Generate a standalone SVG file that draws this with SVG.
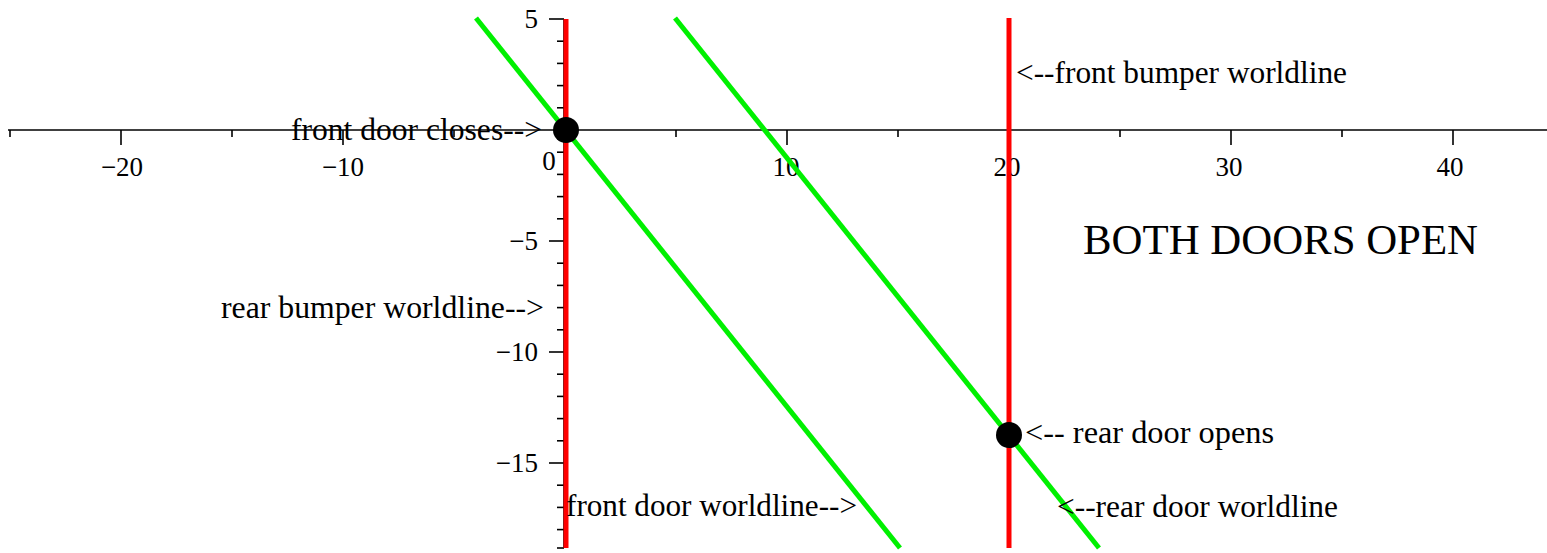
<svg xmlns="http://www.w3.org/2000/svg" width="1547" height="553" viewBox="0 0 1547 553">
  <style>
    .ax { stroke: #000; stroke-width: 1.6; fill: none; }
    .tk { stroke: #000; stroke-width: 1.6; }
    .red { stroke: #ff0000; stroke-width: 5; fill: none; }
    .grn { stroke: #00f000; stroke-width: 5; fill: none; }
    .lbl { font-family: "Liberation Serif", "Times New Roman", serif; font-size: 32px; fill: #000; }
    .num { font-family: "Liberation Serif", "Times New Roman", serif; font-size: 27px; fill: #000; }
    .title { font-family: "Liberation Serif", "Times New Roman", serif; font-size: 42px; fill: #000; }
    .dot { fill: #000; }
  </style>
  <rect width="1547" height="553" fill="#fff"/>

  <g id="axes">
    <line class="ax" x1="8" y1="130" x2="1547" y2="130"/>
    <line class="ax" x1="564" y1="19" x2="564" y2="548"/>
    <g class="tk">
      <line x1="10" y1="130" x2="10" y2="137"/>
      <line x1="121" y1="130" x2="121" y2="145"/>
      <line x1="232" y1="130" x2="232" y2="137"/>
      <line x1="343" y1="130" x2="343" y2="145"/>
      <line x1="454" y1="130" x2="454" y2="137"/>
      <line x1="676" y1="130" x2="676" y2="137"/>
      <line x1="787" y1="130" x2="787" y2="145"/>
      <line x1="898" y1="130" x2="898" y2="137"/>
      <line x1="1009" y1="130" x2="1009" y2="145"/>
      <line x1="1120" y1="130" x2="1120" y2="137"/>
      <line x1="1231" y1="130" x2="1231" y2="145"/>
      <line x1="1342" y1="130" x2="1342" y2="137"/>
      <line x1="1453" y1="130" x2="1453" y2="145"/>
    </g>
    <g class="tk">
      <line x1="549" y1="19" x2="564" y2="19"/>
      <line x1="557" y1="41.2" x2="564" y2="41.2"/>
      <line x1="557" y1="63.4" x2="564" y2="63.4"/>
      <line x1="557" y1="85.6" x2="564" y2="85.6"/>
      <line x1="557" y1="107.8" x2="564" y2="107.8"/>
      <line x1="557" y1="152.2" x2="564" y2="152.2"/>
      <line x1="557" y1="174.4" x2="564" y2="174.4"/>
      <line x1="557" y1="196.6" x2="564" y2="196.6"/>
      <line x1="557" y1="218.8" x2="564" y2="218.8"/>
      <line x1="549" y1="241" x2="564" y2="241"/>
      <line x1="557" y1="263.2" x2="564" y2="263.2"/>
      <line x1="557" y1="285.4" x2="564" y2="285.4"/>
      <line x1="557" y1="307.6" x2="564" y2="307.6"/>
      <line x1="557" y1="329.8" x2="564" y2="329.8"/>
      <line x1="549" y1="352" x2="564" y2="352"/>
      <line x1="557" y1="374.2" x2="564" y2="374.2"/>
      <line x1="557" y1="396.4" x2="564" y2="396.4"/>
      <line x1="557" y1="418.6" x2="564" y2="418.6"/>
      <line x1="557" y1="440.8" x2="564" y2="440.8"/>
      <line x1="549" y1="463" x2="564" y2="463"/>
      <line x1="557" y1="485.2" x2="564" y2="485.2"/>
      <line x1="557" y1="507.4" x2="564" y2="507.4"/>
      <line x1="557" y1="529.6" x2="564" y2="529.6"/>
      <line x1="557" y1="548" x2="564" y2="548"/>
    </g>
    <g class="num" text-anchor="middle">
      <text x="122" y="176">−20</text>
      <text x="343" y="176">−10</text>
      <text x="549" y="170">0</text>
      <text x="786" y="176">10</text>
      <text x="1007" y="176">20</text>
      <text x="1229" y="176">30</text>
      <text x="1450" y="176">40</text>
    </g>
    <g class="num" text-anchor="end">
      <text x="538" y="28">5</text>
      <text x="538" y="250">−5</text>
      <text x="538" y="361">−10</text>
      <text x="538" y="472">−15</text>
    </g>
  </g>

  <g id="connectors">
    <line id="rear-bumper-worldline" class="red" x1="566" y1="19" x2="566" y2="548"/>
    <line id="front-bumper-worldline" class="red" x1="1009" y1="18" x2="1009" y2="548"/>
    <line id="front-door-worldline" class="grn" x1="476" y1="18" x2="900" y2="548"/>
    <line id="rear-door-worldline" class="grn" x1="675" y1="18" x2="1099" y2="548"/>
  </g>

  <g id="front-door-closes">
    <circle class="dot" cx="566" cy="130" r="13"/>
    <text class="lbl" x="291" y="140" textLength="251" lengthAdjust="spacingAndGlyphs">front door closes--&gt;</text>
  </g>
  <g id="rear-door-opens">
    <circle class="dot" cx="1009" cy="435" r="13"/>
    <text class="lbl" x="1025" y="443" textLength="249" lengthAdjust="spacingAndGlyphs">&lt;-- rear door opens</text>
  </g>
  <g id="label-front-bumper">
    <text class="lbl" x="1016" y="83" textLength="331" lengthAdjust="spacingAndGlyphs">&lt;--front bumper worldline</text>
  </g>
  <g id="label-rear-bumper">
    <text class="lbl" x="221" y="318" textLength="323" lengthAdjust="spacingAndGlyphs">rear bumper worldline--&gt;</text>
  </g>
  <g id="label-front-door">
    <text class="lbl" x="566" y="516" textLength="291" lengthAdjust="spacingAndGlyphs">front door worldline--&gt;</text>
  </g>
  <g id="label-rear-door">
    <text class="lbl" x="1057" y="517" textLength="281" lengthAdjust="spacingAndGlyphs">&lt;--rear door worldline</text>
  </g>
  <g id="title">
    <text class="title" x="1083" y="254" textLength="395" lengthAdjust="spacingAndGlyphs">BOTH DOORS OPEN</text>
  </g>
</svg>
